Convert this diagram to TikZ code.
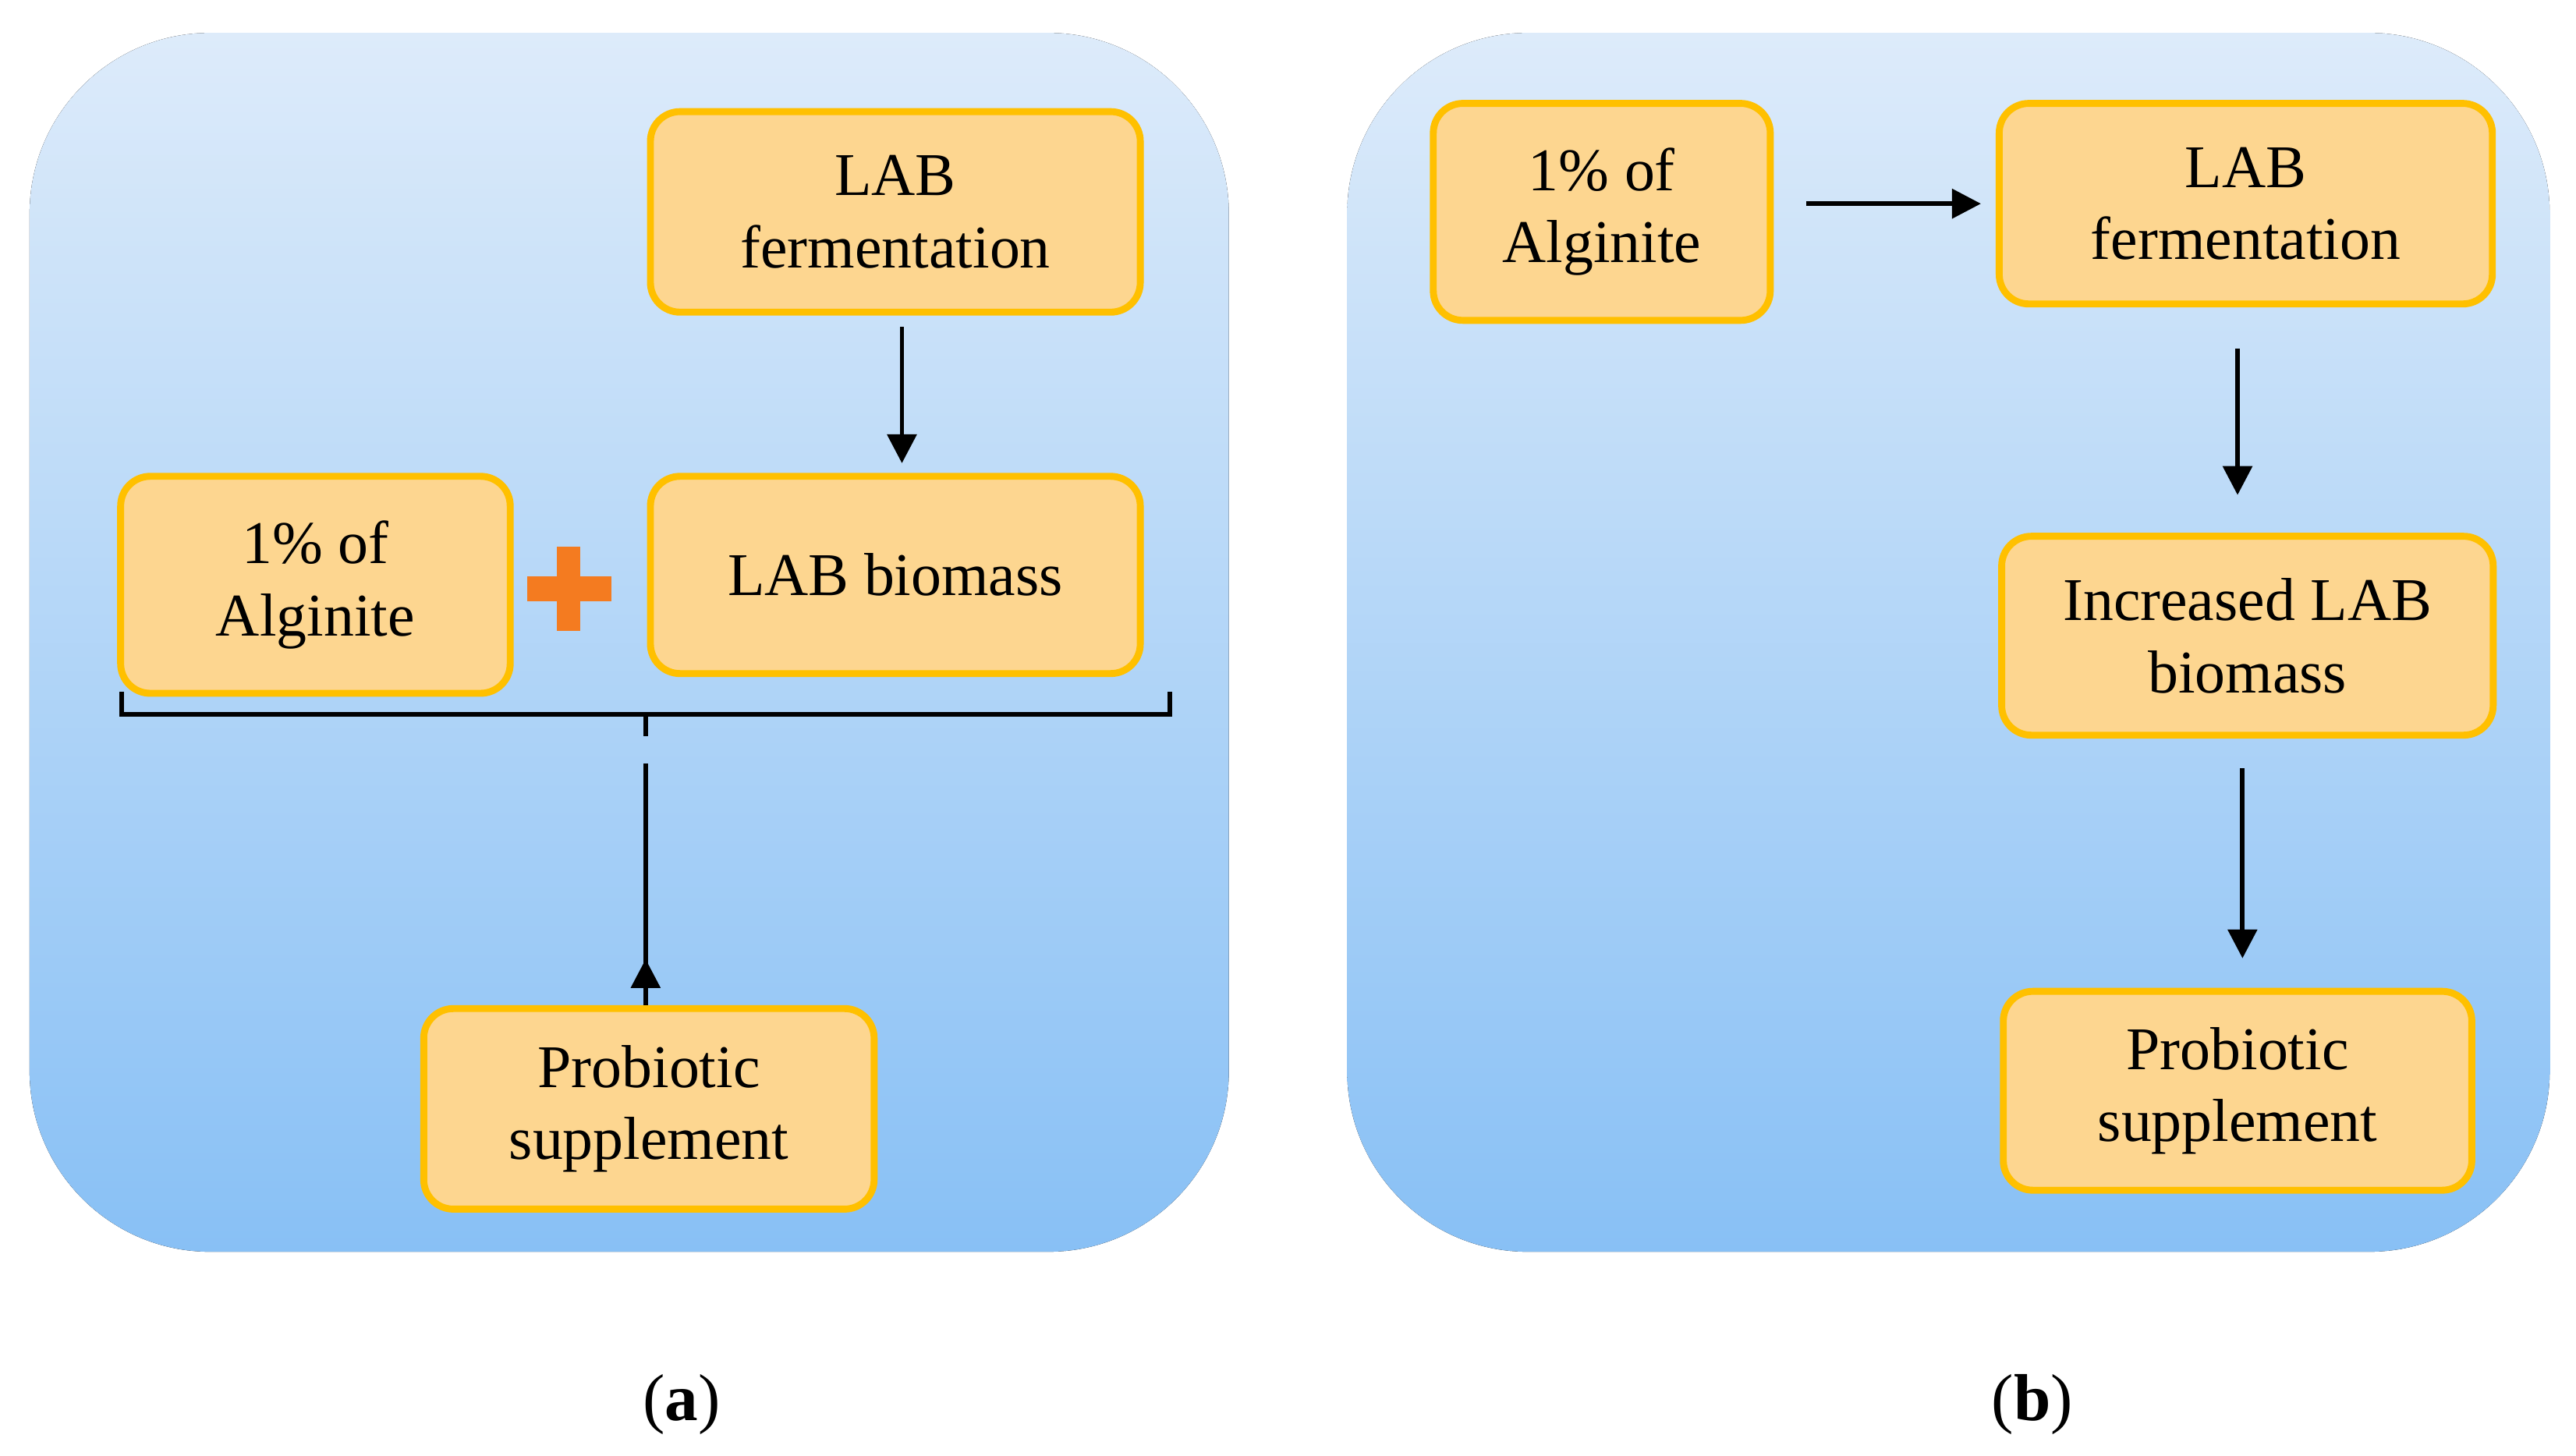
\documentclass[tikz,border=0pt]{standalone}
\usepackage{fontspec}
\setmainfont{Liberation Serif}
\usetikzlibrary{arrows.meta}
\definecolor{bgtop}{HTML}{DDEBFA}
\definecolor{bgbot}{HTML}{88C0F5}
\definecolor{boxfill}{HTML}{FDD690}
\definecolor{boxline}{HTML}{FFC000}
\definecolor{plusc}{HTML}{F47B20}
\begin{document}
\begin{tikzpicture}[x=0.01cm,y=-0.01cm,
  panel/.style={rounded corners=1.1cm,top color=bgtop,bottom color=bgbot,draw=none},
  box/.style={draw=boxline,line width=1.2pt,fill=boxfill,rounded corners=0.18cm,
    align=center,font=\fontsize{10.5}{12.5}\selectfont,inner sep=0pt},
  arr/.style={-{Triangle[length=5pt,width=5pt]},line width=0.8pt}]
\useasboundingbox (0,0) rectangle (1568,886);
\fill[panel] (18,20) rectangle (748,762);
\fill[panel] (820,20) rectangle (1552,762);
% panel (a)
\node[box,minimum width=2.98cm,minimum height=1.22cm] (aferm) at (545,129) {LAB\\fermentation};
\node[box,minimum width=2.98cm,minimum height=1.2cm] (abio) at (545,350) {LAB biomass};
\node[box,minimum width=2.37cm,minimum height=1.32cm] (aalg) at (192,356) {1\% of\\Alginite};
\node[box,minimum width=2.74cm,minimum height=1.22cm] (aprob) at (395,675) {Probiotic\\supplement};
\fill[plusc] (339,333) rectangle (353,384);
\fill[plusc] (321,351) rectangle (372,366);
\draw[line width=0.8pt] (74,421) -- (74,435) -- (712,435) -- (712,421);
\draw[line width=0.8pt] (393,435) -- (393,448);
\coordinate (bs) at (393,465);
\draw[arr] (aferm.south -| 549,0) ++(0,7) coordinate (fs) -- (549,282);
\draw[arr] (bs) -- (aprob.north -| bs) ++(0,-28);
% panel (b)
\node[box,minimum width=2.05cm,minimum height=1.32cm] (balg) at (975,129) {1\% of\\Alginite};
\node[box,minimum width=3.0cm,minimum height=1.22cm] (bferm) at (1367,124) {LAB\\fermentation};
\node[box,minimum width=2.99cm,minimum height=1.21cm] (binc) at (1368,387) {Increased LAB\\biomass};
\node[box,minimum width=2.85cm,minimum height=1.21cm] (bprob) at (1362,664) {Probiotic\\supplement};
\draw[arr] ([xshift=0.2cm]balg.east |- 0,124) -- ([xshift=-0.09cm]bferm.west);
\draw[arr] ([yshift=-0.25cm]bferm.south -| 1362,0) -- ([yshift=0.23cm]binc.north -| 1362,0);
\draw[arr] ([yshift=-0.18cm]binc.south -| 1365,0) -- ([yshift=0.18cm]bprob.north -| 1365,0);
% captions
\node[font=\fontsize{11.5}{13}\selectfont] (capa) at (415,855) {(\textbf{a})};
\node[font=\fontsize{11.5}{13}\selectfont] (capb) at (1237,855) {(\textbf{b})};
\end{tikzpicture}
\end{document}
